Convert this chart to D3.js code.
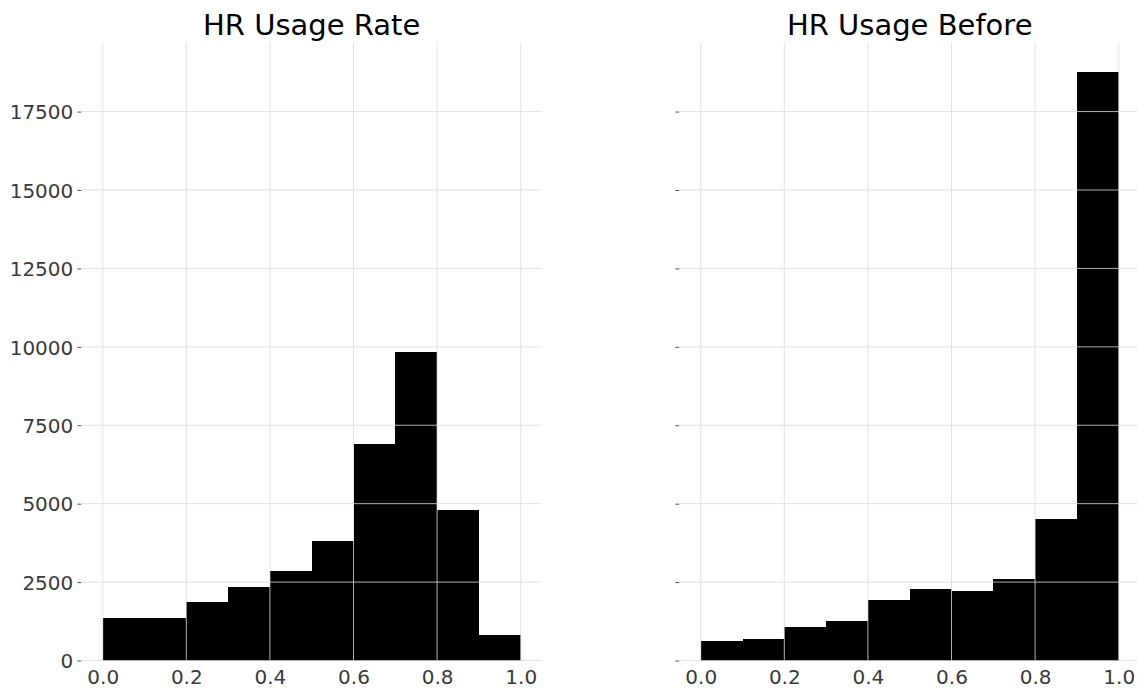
<!DOCTYPE html>
<html>
<head>
<meta charset="utf-8">
<script src="https://cdn.jsdelivr.net/npm/d3@7"></script>
<style>
  html, body { margin: 0; padding: 0; background: #fff; }
  svg { display: block; font-family: "DejaVu Sans", sans-serif; }
</style>
</head>
<body>
<svg id="chart" width="1137" height="688"></svg>
<script>
// ---- Data ----
const binEdges = [0.0, 0.1, 0.2, 0.3, 0.4, 0.5, 0.6, 0.7, 0.8, 0.9, 1.0];
const usageRateCounts = [1340, 1340, 1860, 2350, 2840, 3800, 6900, 9820, 4790, 810];
const usageBeforeCounts = [620, 690, 1060, 1265, 1925, 2265, 2215, 2600, 4525, 18770];
const panelTitles = ["HR Usage Rate", "HR Usage Before"];
const xTicks = [0.0, 0.2, 0.4, 0.6, 0.8, 1.0];
const yTicks = [0, 2500, 5000, 7500, 10000, 12500, 15000, 17500];

(function () {
  const svg = d3.select("#chart");
  const plotTop = 42.3, plotBottom = 660.5;
  const panels = [
    { left: 81.8, right: 541.6, counts: usageRateCounts, title: panelTitles[0], showYLabels: true },
    { left: 679.8, right: 1139.6, counts: usageBeforeCounts, title: panelTitles[1], showYLabels: false }
  ];

  const maxCount = d3.max([...usageRateCounts, ...usageBeforeCounts]);
  const y = d3.scaleLinear().domain([0, maxCount * 1.05]).range([plotBottom, plotTop]);

  panels.forEach(p => {
    const x = d3.scaleLinear().domain([-0.05, 1.05]).range([p.left, p.right]);
    const g = svg.append("g");

    const bins = p.counts.map((c, i) => ({ x0: binEdges[i], x1: binEdges[i + 1], c }));

    // bars
    g.append("g").attr("shape-rendering", "crispEdges")
      .selectAll("rect").data(bins).join("rect")
      .attr("x", d => x(d.x0))
      .attr("width", d => x(d.x1) - x(d.x0))
      .attr("y", d => y(d.c))
      .attr("height", d => y(0) - y(d.c))
      .attr("fill", "#000");

    // grid (drawn over bars)
    const grid = g.append("g").attr("stroke", "#dcdcdc").attr("stroke-opacity", 0.8).attr("stroke-width", 1);
    grid.selectAll("line.h").data(yTicks).join("line")
      .attr("class", "h")
      .attr("x1", p.left).attr("x2", p.right)
      .attr("y1", d => y(d)).attr("y2", d => y(d));
    grid.selectAll("line.v").data(xTicks).join("line")
      .attr("class", "v")
      .attr("y1", plotTop).attr("y2", plotBottom)
      .attr("x1", d => x(d)).attr("x2", d => x(d));

    // y axis ticks
    const yAxis = d3.axisLeft(y).tickValues(yTicks).tickSize(4).tickPadding(4)
      .tickFormat(p.showYLabels ? d3.format("d") : () => "");
    const ya = g.append("g").attr("transform", `translate(${p.left - 0.5},0)`).call(yAxis);
    ya.select(".domain").remove();
    ya.selectAll(".tick line").attr("stroke", "#555").attr("stroke-width", 1);
    ya.selectAll(".tick text")
      .attr("fill", "#3a3a3a")
      .attr("font-size", "20px")
      .attr("font-family", "DejaVu Sans, sans-serif")
      .attr("dy", "0.36em");

    // x axis labels
    const xAxis = d3.axisBottom(x).tickValues(xTicks).tickSize(0).tickPadding(0)
      .tickFormat(d3.format(".1f"));
    const xa = g.append("g").attr("transform", `translate(0,${plotBottom})`).call(xAxis);
    xa.select(".domain").remove();
    xa.selectAll(".tick line").remove();
    xa.selectAll(".tick text")
      .attr("fill", "#3a3a3a")
      .attr("font-size", "20px")
      .attr("font-family", "DejaVu Sans, sans-serif")
      .attr("dy", null)
      .attr("y", 23.5);

    // title
    g.append("text")
      .attr("x", (p.left + p.right) / 2)
      .attr("y", 35)
      .attr("text-anchor", "middle")
      .attr("font-size", "29px")
      .attr("font-family", "DejaVu Sans, sans-serif")
      .attr("fill", "#000")
      .text(p.title);
  });
})();
</script>
</body>
</html>
